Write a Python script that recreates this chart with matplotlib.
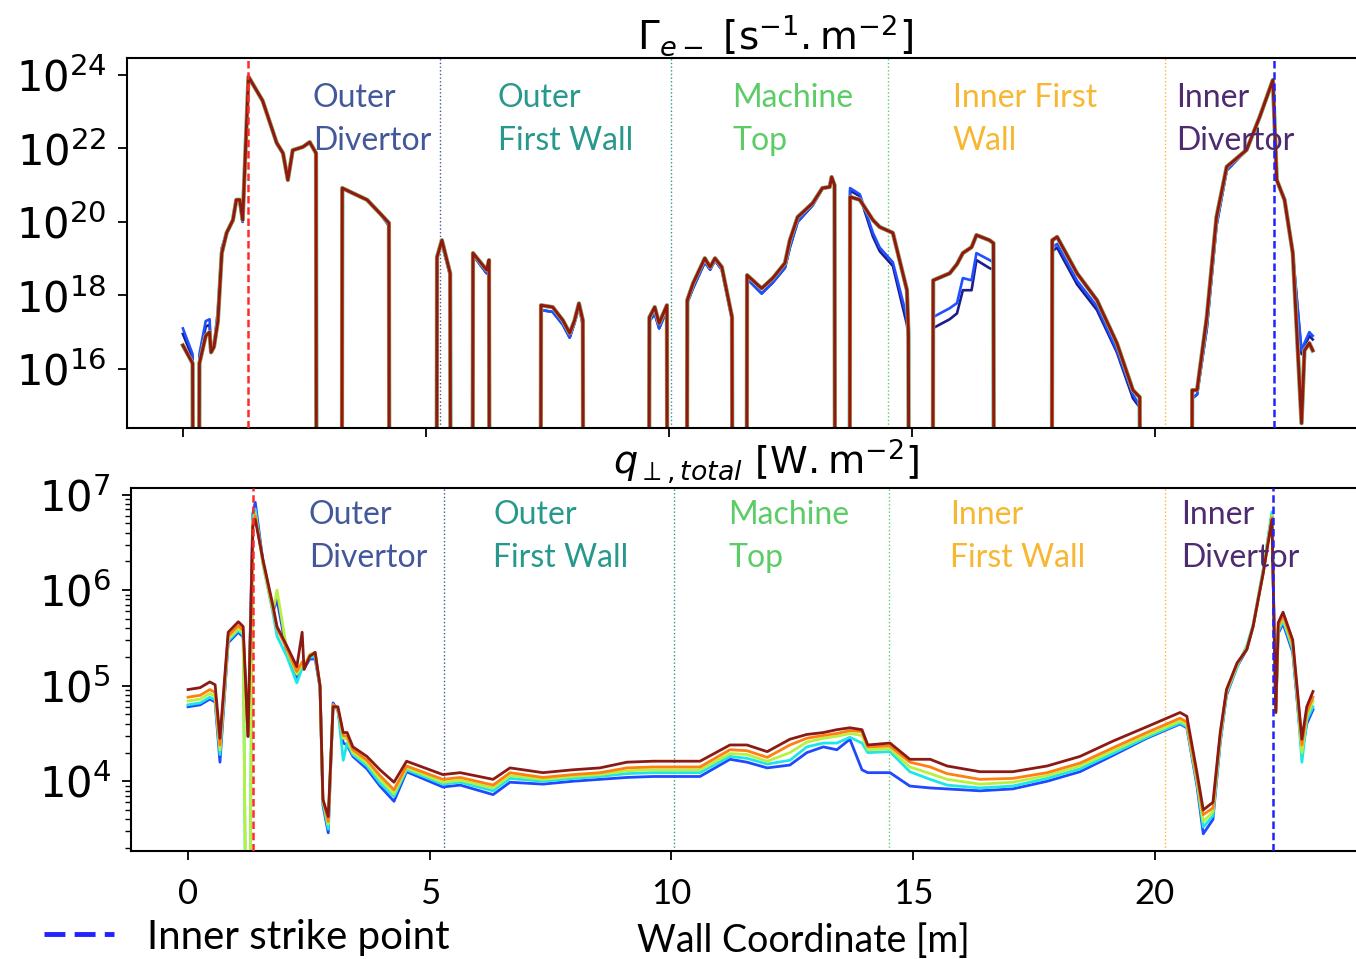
import numpy as np
import matplotlib
matplotlib.use("Agg")
import matplotlib.pyplot as plt
from matplotlib.lines import Line2D
from matplotlib.ticker import LogLocator, NullLocator, NullFormatter

# ---- electron flux (top panel), log10 values, 10 = zero flux (below axis)
top_x = [0.00, 0.20, 0.21, 0.33, 0.34, 0.47, 0.55, 0.58, 0.64, 0.72,
         0.80, 0.90, 1.03, 1.10, 1.17, 1.23, 1.35, 1.64, 1.93, 2.06,
         2.16, 2.26, 2.47, 2.61, 2.74, 2.75, 3.27, 3.28, 3.50, 3.79,
         4.05, 4.24, 4.25, 5.22, 5.23, 5.33, 5.50, 5.51, 5.96, 5.97,
         6.25, 6.30, 6.31, 7.36, 7.37, 7.61, 7.82, 7.96, 8.06, 8.15,
         8.23, 8.24, 9.59, 9.60, 9.71, 9.80, 9.96, 9.97, 10.37, 10.38,
         10.50, 10.74, 10.85, 10.95, 11.09, 11.30, 11.31, 11.60, 11.61, 11.91,
         12.14, 12.39, 12.49, 12.65, 12.96, 13.16, 13.31, 13.35, 13.41, 13.42,
         13.72, 13.73, 13.93, 14.20, 14.34, 14.61, 14.90, 14.93, 14.94, 15.43,
         15.44, 15.78, 15.93, 16.05, 16.23, 16.33, 16.60, 16.68, 16.69, 17.88,
         17.89, 17.99, 18.40, 18.81, 19.22, 19.55, 19.69, 19.70, 20.76, 20.77,
         20.87, 21.07, 21.27, 21.48, 21.89, 22.16, 22.43, 22.51, 22.67, 22.84,
         23.02, 23.08, 23.18, 23.25]
top_red = [16.64, 16.15, 10, 10, 16.15, 16.90, 17.00, 16.45, 16.60, 17.30,
           19.15, 19.70, 20.05, 20.60, 20.60, 20.05, 23.95, 23.30, 22.15, 21.87,
           21.14, 21.95, 22.04, 22.17, 21.87, 10, 10, 20.92, 20.78, 20.60,
           20.24, 19.97, 10, 10, 19.04, 19.50, 18.60, 10, 10, 19.15,
           18.69, 18.96, 10, 10, 17.73, 17.68, 17.32, 16.97, 17.32, 17.78,
           17.32, 10, 10, 17.40, 17.68, 17.24, 17.73, 10, 10, 17.87,
           18.33, 19.01, 18.77, 19.01, 18.77, 17.41, 10, 10, 18.55, 18.19,
           18.47, 18.88, 19.50, 20.13, 20.51, 20.92, 20.95, 21.22, 21.00, 10,
           10, 20.68, 20.60, 20.05, 19.86, 19.70, 18.14, 16.97, 10, 10,
           18.41, 18.60, 18.85, 19.15, 19.31, 19.64, 19.50, 19.42, 10, 10,
           19.50, 19.59, 18.60, 17.87, 16.70, 15.42, 15.23, 10, 10, 15.42,
           15.42, 17.40, 20.13, 21.50, 21.96, 22.86, 23.86, 21.14, 20.60, 19.15,
           14.52, 16.50, 16.70, 16.50]
top_blue = [17.10, 16.40, 10, 10, 16.40, 17.30, 17.35, 16.50, 16.65, 17.60,
            19.30, 19.70, 20.05, 20.55, 20.55, 20.00, 23.95, 23.30, 22.15, 21.87,
            21.14, 21.95, 22.04, 22.17, 21.87, 10, 10, 20.92, 20.78, 20.60,
            20.24, 19.90, 10, 10, 19.04, 19.40, 18.55, 10, 10, 19.10,
            18.60, 18.90, 10, 10, 17.60, 17.55, 17.20, 16.85, 17.25, 17.70,
            17.20, 10, 10, 17.30, 17.50, 17.10, 17.60, 10, 10, 17.80,
            18.20, 18.90, 18.70, 18.95, 18.70, 17.35, 10, 10, 18.45, 18.05,
            18.35, 18.75, 19.30, 20.00, 20.45, 20.90, 20.95, 21.22, 21.00, 10,
            10, 20.92, 20.75, 19.70, 19.30, 18.90, 17.40, 16.90, 10, 10,
            17.41, 17.65, 17.79, 18.47, 18.41, 19.15, 18.96, 18.90, 10, 10,
            19.30, 19.40, 18.40, 17.70, 16.50, 15.30, 15.00, 10, 10, 15.20,
            15.30, 17.10, 19.90, 21.40, 21.96, 22.86, 23.86, 21.14, 20.60, 19.15,
            16.50, 16.70, 17.00, 16.90]
top_navy = [16.95, 16.30, 10, 10, 16.30, 17.15, 17.20, 16.45, 16.60, 17.45,
            19.20, 19.70, 20.05, 20.55, 20.55, 20.00, 23.95, 23.30, 22.15, 21.87,
            21.14, 21.95, 22.04, 22.17, 21.87, 10, 10, 20.92, 20.78, 20.60,
            20.24, 19.90, 10, 10, 19.04, 19.40, 18.55, 10, 10, 19.10,
            18.60, 18.90, 10, 10, 17.60, 17.55, 17.20, 16.85, 17.25, 17.70,
            17.20, 10, 10, 17.30, 17.50, 17.10, 17.60, 10, 10, 17.80,
            18.20, 18.90, 18.70, 18.95, 18.70, 17.35, 10, 10, 18.45, 18.05,
            18.35, 18.75, 19.30, 20.00, 20.45, 20.90, 20.95, 21.22, 21.00, 10,
            10, 20.85, 20.70, 19.60, 19.20, 18.80, 17.20, 16.80, 10, 10,
            17.11, 17.35, 17.51, 18.14, 18.14, 18.96, 18.74, 18.70, 10, 10,
            19.20, 19.30, 18.30, 17.60, 16.45, 15.20, 14.95, 10, 10, 15.20,
            15.30, 17.10, 19.90, 21.40, 21.96, 22.86, 23.86, 21.14, 20.60, 19.15,
            16.40, 16.60, 16.90, 16.80]

# ---- total perpendicular heat flux (bottom panel), log10 values, 0 = zero
q_x = [0.00, 0.25, 0.45, 0.56, 0.66, 0.83, 1.04, 1.14, 1.24, 1.34,
       1.39, 1.55, 1.76, 1.84, 2.05, 2.25, 2.36, 2.40, 2.52, 2.63,
       2.73, 2.79, 2.90, 3.00, 3.10, 3.21, 3.29, 3.41, 3.70, 3.97,
       4.26, 4.52, 5.27, 5.63, 6.31, 6.66, 7.34, 7.96, 8.52, 9.08,
       9.62, 10.59, 11.21, 11.56, 11.98, 12.45, 12.80, 13.14, 13.42, 13.69,
       13.94, 14.06, 14.52, 14.93, 15.35, 15.70, 16.38, 17.06, 17.77, 18.45,
       19.13, 19.83, 20.52, 20.66, 20.87, 21.00, 21.20, 21.35, 21.48, 21.70,
       21.90, 22.03, 22.24, 22.42, 22.50, 22.55, 22.65, 22.85, 22.94, 23.04,
       23.14, 23.27]
q_red = [4.96, 4.98, 5.04, 5.01, 4.45, 5.56, 5.67, 5.62, 4.47, 6.67,
         6.74, 6.32, 5.83, 5.62, 5.41, 5.20, 5.56, 5.17, 5.31, 5.35,
         5.00, 3.81, 3.63, 4.78, 4.78, 4.51, 4.51, 4.36, 4.26, 4.12,
         3.99, 4.21, 4.07, 4.09, 4.02, 4.14, 4.09, 4.12, 4.14, 4.20,
         4.21, 4.21, 4.38, 4.38, 4.31, 4.44, 4.49, 4.51, 4.54, 4.56,
         4.54, 4.38, 4.40, 4.23, 4.23, 4.16, 4.10, 4.10, 4.16, 4.26,
         4.42, 4.57, 4.72, 4.68, 4.09, 3.70, 3.78, 4.51, 4.96, 5.24,
         5.38, 5.62, 6.18, 6.74, 4.72, 5.66, 5.77, 5.48, 4.99, 4.44,
         4.78, 4.94]
q_orange = [4.88, 4.90, 4.96, 4.93, 4.38, 5.52, 5.63, 5.58, 4.47, 6.70,
            6.78, 6.30, 5.80, 5.60, 5.38, 5.15, 5.25, 5.20, 5.32, 5.33,
            5.00, 3.81, 3.58, 4.80, 4.76, 4.48, 4.47, 4.33, 4.22, 4.06,
            3.91, 4.16, 4.02, 4.04, 3.96, 4.09, 4.04, 4.07, 4.09, 4.14,
            4.15, 4.15, 4.33, 4.32, 4.25, 4.38, 4.45, 4.48, 4.50, 4.53,
            4.52, 4.36, 4.37, 4.20, 4.15, 4.08, 4.02, 4.03, 4.09, 4.19,
            4.35, 4.51, 4.66, 4.62, 4.04, 3.65, 3.72, 4.48, 4.95, 5.23,
            5.38, 5.62, 6.18, 6.76, 4.72, 5.62, 5.74, 5.44, 4.95, 4.38,
            4.72, 4.88]
q_green = [4.84, 4.86, 4.92, 4.89, 4.33, 5.49, 5.60, 5.55, 0.00, 6.72,
           6.80, 6.28, 5.78, 6.00, 5.36, 5.12, 5.22, 5.20, 5.33, 5.35,
           5.00, 3.80, 3.55, 4.80, 4.76, 4.45, 4.44, 4.30, 4.19, 4.02,
           3.87, 4.14, 3.99, 4.01, 3.93, 4.06, 4.02, 4.05, 4.07, 4.11,
           4.12, 4.12, 4.29, 4.28, 4.21, 4.30, 4.41, 4.45, 4.47, 4.50,
           4.48, 4.33, 4.34, 4.15, 4.08, 4.02, 3.97, 3.99, 4.06, 4.16,
           4.32, 4.48, 4.63, 4.59, 4.01, 3.58, 3.68, 4.45, 4.93, 5.22,
           5.40, 5.62, 6.20, 6.78, 4.72, 5.60, 5.71, 5.41, 4.92, 4.30,
           4.68, 4.84]
q_cyan = [4.80, 4.82, 4.88, 4.85, 4.28, 5.47, 5.58, 5.53, 0.00, 6.75,
          6.85, 6.27, 5.75, 5.52, 5.30, 5.03, 5.18, 5.18, 5.30, 5.30,
          4.98, 3.78, 3.50, 4.80, 4.75, 4.22, 4.40, 4.28, 4.16, 3.98,
          3.84, 4.12, 3.97, 3.99, 3.90, 4.03, 4.00, 4.03, 4.05, 4.08,
          4.09, 4.09, 4.26, 4.24, 4.18, 4.22, 4.36, 4.40, 4.40, 4.46,
          4.40, 4.30, 4.31, 4.10, 4.02, 3.96, 3.93, 3.95, 4.03, 4.13,
          4.29, 4.46, 4.61, 4.57, 3.98, 3.52, 3.64, 4.42, 4.92, 5.20,
          5.42, 5.64, 6.22, 6.82, 4.72, 5.57, 5.68, 5.38, 4.88, 4.20,
          4.64, 4.78]
q_blue = [4.78, 4.80, 4.86, 4.83, 4.20, 5.45, 5.56, 5.51, 4.47, 6.80,
          6.92, 6.30, 5.78, 5.90, 5.33, 5.08, 5.20, 5.18, 5.28, 5.28,
          4.98, 3.75, 3.46, 4.82, 4.74, 4.40, 4.38, 4.26, 4.13, 3.95,
          3.79, 4.10, 3.94, 3.96, 3.86, 3.99, 3.97, 4.00, 4.02, 4.04,
          4.05, 4.05, 4.23, 4.20, 4.14, 4.17, 4.30, 4.36, 4.33, 4.44,
          4.12, 4.09, 4.09, 3.95, 3.93, 3.92, 3.90, 3.92, 4.00, 4.10,
          4.27, 4.45, 4.60, 4.56, 3.95, 3.45, 3.60, 4.40, 4.90, 5.20,
          5.38, 5.62, 6.20, 6.80, 4.72, 5.55, 5.65, 5.35, 4.85, 4.30,
          4.60, 4.75]

# regions / strike points
region_edges = [5.3, 10.05, 14.5, 20.2]
region_colors = ['#42589a', '#26998c', '#5bcc66', '#f7b731', '#4e2a6e']
top_labels = ['Outer\nDivertor', 'Outer\nFirst Wall', 'Machine\nTop', 'Inner First\nWall', 'Inner\nDivertor']
top_label_x = [2.67, 6.48, 11.30, 15.84, 20.43]
bot_labels = ['Outer\nDivertor', 'Outer\nFirst Wall', 'Machine\nTop', 'Inner\nFirst Wall', 'Inner\nDivertor']
bot_label_x = [2.50, 6.31, 11.17, 15.76, 20.54]
outer_strike = 1.35
inner_strike = 22.45
xticks = [0, 5, 10, 15, 20]

W, H = 1356, 959
fig = plt.figure(figsize=(W / 100, H / 100), dpi=100)
ax1 = fig.add_axes([127 / W, 1 - 428 / H, 1245 / W, 370 / H])
ax2 = fig.add_axes([131 / W, 1 - 851 / H, 1241 / W, 363 / H])

# top panel
ax1.plot(top_x, 10 ** np.array(top_navy), color='#1c1c90', lw=1.9)
ax1.plot(top_x, 10 ** np.array(top_blue), color='#2050ff', lw=1.9)
ax1.plot(top_x, 10 ** np.array(top_red), color='#20e0d0', lw=3.1)
ax1.plot(top_x, 10 ** np.array(top_red), color='#ff8020', lw=2.7)
ax1.plot(top_x, 10 ** np.array(top_red), color='#8b1a14', lw=2.1)

# bottom panel
q_series = [(q_blue, '#1f48ff'), (q_cyan, '#1ee6e6'), (q_green, '#b8f040'),
            (q_orange, '#ff7f10'), (q_red, '#8b1a14')]
for vals, c in q_series:
    ax2.plot(q_x, 10 ** np.array(vals), color=c, lw=2.0)

for ax, labels, lx, ly in [(ax1, top_labels, top_label_x, 0.834),
                           (ax2, bot_labels, bot_label_x, 0.866)]:
    ax.set_yscale('log')
    for xe, c in zip(region_edges, region_colors):
        ax.axvline(xe, color=c, ls=':', lw=1.0, zorder=1)
    ax.axvline(outer_strike, color='#ff2a2a', ls=(0, (3, 1.5)), lw=1.8, zorder=5)
    ax.axvline(inner_strike, color='#2222ff', ls=(0, (3, 1.5)), lw=1.8, zorder=5)
    for t, x, c in zip(labels, lx, region_colors):
        ax.text(x, ly, t, color=c, fontsize=23, fontfamily='Lato', ha='left', va='center',
                linespacing=1.55, transform=ax.get_xaxis_transform(), zorder=6)
    for s in ax.spines.values():
        s.set_linewidth(1.5)
    ax.tick_params(axis='both', which='major', direction='out', length=6.5, width=1.3,
                   labelsize=30, pad=8)
    ax.tick_params(axis='y', which='minor', direction='out', length=4, width=1.0)

ax1.set_xlim(-1.15, 24.47)
ax1.set_ylim(10 ** 14.39, 10 ** 24.46)
ax1.set_yticks([1e16, 1e18, 1e20, 1e22, 1e24])
ax1.yaxis.set_minor_locator(NullLocator())
ax1.set_xticks(xticks)
ax1.set_xticklabels([])

ax2.set_xlim(-1.18, 24.49)
ax2.set_ylim(10 ** 3.27, 10 ** 7.07)
ax2.set_yticks([1e4, 1e5, 1e6, 1e7])
ax2.yaxis.set_minor_locator(LogLocator(base=10, subs=np.arange(2, 10)))
ax2.yaxis.set_minor_formatter(NullFormatter())
ax2.set_xticks(xticks)
ax2.set_xticklabels([str(v) for v in xticks], fontfamily='Lato', fontsize=25)
ax2.tick_params(axis='x', pad=13)

fig.text(775 / W, 1 - 35 / H, r'$\Gamma_{e-}\ [\mathrm{s}^{-1}.\mathrm{m}^{-2}]$',
         fontsize=28, ha='center', va='center')
fig.text(766 / W, 1 - 462 / H, r'$q_{\perp,total}\ [\mathrm{W.m}^{-2}]$',
         fontsize=27.5, ha='center', va='center')
fig.text(803 / W, 1 - 941 / H, 'Wall Coordinate [m]', fontsize=27, fontfamily='Lato',
         ha='center', va='center')

handle = Line2D([], [], color='#2222ff', lw=3.5, dashes=(4.3, 1.9))
fig.legend([handle], ['Inner strike point'], loc='center left',
           bbox_to_anchor=(44 / W, 1 - 937 / H), frameon=False, handlelength=1.75,
           handletextpad=0.8, borderpad=0, borderaxespad=0,
           prop={'family': 'Lato', 'size': 29})

fig.savefig('out.png', dpi=100)
